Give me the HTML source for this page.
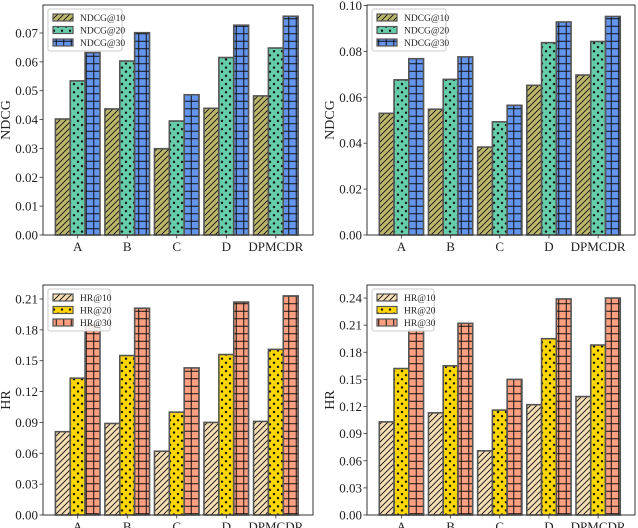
<!DOCTYPE html>
<html><head><meta charset="utf-8">
<style>
html,body{margin:0;padding:0;background:#fff;}
svg{display:block;font-family:"Liberation Serif","DejaVu Serif",serif;}
</style></head>
<body>
<svg id="chart" width="638" height="528" viewBox="0 0 638 528" xmlns="http://www.w3.org/2000/svg">
<defs>
  <pattern id="hatch" patternUnits="userSpaceOnUse" width="6" height="6">
    <path d="M-1,7 L7,-1 M-4,4 L4,-4 M2,10 L10,2" stroke="#111" stroke-width="0.9"/>
  </pattern>
  <pattern id="dots" patternUnits="userSpaceOnUse" width="8" height="8.2">
    <circle cx="2" cy="2" r="1.2" fill="#111"/>
    <circle cx="6" cy="6.1" r="1.2" fill="#111"/>
  </pattern>
  <pattern id="grid" patternUnits="userSpaceOnUse" width="7.5" height="7.5">
    <path d="M3.75,0 V7.5 M0,3.75 H7.5" stroke="#111" stroke-width="1"/>
  </pattern>
</defs>
</svg>
<script>
const categories = ["A","B","C","D","DPMCDR"];
const ndcgLabels = ["NDCG@10","NDCG@20","NDCG@30"];
const hrLabels = ["HR@10","HR@20","HR@30"];
const tlNdcg10 = [0.0402,0.0437,0.0299,0.0439,0.0482];
const tlNdcg20 = [0.0534,0.0603,0.0395,0.0615,0.0648];
const tlNdcg30 = [0.0632,0.0701,0.0486,0.0727,0.0758];
const trNdcg10 = [0.0530,0.0548,0.0383,0.0652,0.0697];
const trNdcg20 = [0.0676,0.0678,0.0493,0.0838,0.0843];
const trNdcg30 = [0.0768,0.0776,0.0565,0.0928,0.0952];
const blHr10 = [0.081,0.089,0.062,0.090,0.091];
const blHr20 = [0.133,0.155,0.100,0.156,0.161];
const blHr30 = [0.185,0.201,0.143,0.207,0.213];
const brHr10 = [0.103,0.113,0.071,0.122,0.131];
const brHr20 = [0.162,0.165,0.116,0.195,0.188];
const brHr30 = [0.205,0.212,0.150,0.239,0.240];
const tlTicks = ["0.00","0.01","0.02","0.03","0.04","0.05","0.06","0.07"];
const trTicks = ["0.00","0.02","0.04","0.06","0.08","0.10"];
const blTicks = ["0.00","0.03","0.06","0.09","0.12","0.15","0.18","0.21"];
const brTicks = ["0.00","0.03","0.06","0.09","0.12","0.15","0.18","0.21","0.24"];

const NS="http://www.w3.org/2000/svg";
const svg=document.getElementById('chart');
function mk(tag,attrs,parent){const e=document.createElementNS(NS,tag);for(const k in attrs)e.setAttribute(k,attrs[k]);(parent||svg).appendChild(e);return e;}

const ndcgColors=["#bdb76b","#66cdaa","#6495ed"];
const hrColors=["#f5deb3","#ffd700","#fca081"];
const pats=["hatch","dots","grid"];

function panel(id,box,ymax,ticks,series,labels,colors,ylabel){
  const g=mk('g',{});
  
  
  const L=box.l,R=box.r,T=box.t,B=box.b;
  const y=v=>B-(v/ymax)*(B-T);
  const unit=(R-L)/5.45;
  const x0=L+unit*0.7;
  const xc=i=>x0+i*unit;
  const bw=unit*0.3;
  series.forEach((arr,s)=>{
    arr.forEach((v,i)=>{
      const bx=xc(i)+(s-1)*bw-bw/2;
      const r1=mk('rect',{x:bx,y:y(v),width:bw,height:B-y(v),fill:colors[s]},g);
      
      
      mk('rect',{x:bx,y:y(v),width:bw,height:B-y(v),fill:'url(#'+pats[s]+')',stroke:'#555','stroke-width':1.6},g);
    });
  });
  const frame=mk('rect',{x:L,y:T,width:R-L,height:B-T,fill:'none',stroke:'#333','stroke-width':1},g);
  
  
  ticks.forEach(t=>{
    const v=parseFloat(t),yy=y(v);
    mk('line',{x1:L-3.5,x2:L,y1:yy,y2:yy,stroke:'#333','stroke-width':0.8},g);
    const tx=mk('text',{x:L-5,y:yy+4.5,'text-anchor':'end','font-size':13,fill:'#222'},g);
    tx.textContent=t;
    
    
  });
  categories.forEach((c,i)=>{
    mk('line',{x1:xc(i),x2:xc(i),y1:B,y2:B+3.5,stroke:'#333','stroke-width':0.8},g);
    const tx=mk('text',{x:xc(i),y:B+16,'text-anchor':'middle','font-size':13,fill:'#222'},g);
    tx.textContent=c;
    
    
  });
  const yl=mk('text',{x:0,y:0,'text-anchor':'middle','font-size':14,fill:'#222',transform:'translate('+(box.l-33)+','+((T+B)/2)+') rotate(-90)'},g);
  yl.textContent=ylabel;
  
  
  const lg=mk('g',{},g);
  
  
  const lx=L+5,ly=T+4;
  mk('rect',{x:lx,y:ly,width:box.lw,height:42,fill:'#fff','fill-opacity':0.9,stroke:'#ccc','stroke-width':1,rx:2},lg);
  labels.forEach((lab,s)=>{
    const ey=ly+5+s*12.5;
    const e=mk('g',{},lg);
    
    
    mk('rect',{x:lx+5,y:ey,width:20,height:7,fill:colors[s]},e);
    mk('rect',{x:lx+5,y:ey,width:20,height:7,fill:'url(#'+pats[s]+')',stroke:'#555','stroke-width':1.2},e);
    const t=mk('text',{x:lx+32,y:ey+7,'font-size':9.5,fill:'#222'},e);
    t.textContent=lab;
  });
}
panel('ndcg-left',{l:43,r:313,t:5,b:235,lw:74},0.0797,tlTicks,[tlNdcg10,tlNdcg20,tlNdcg30],ndcgLabels,ndcgColors,'NDCG');
panel('ndcg-right',{l:367,r:635,t:5,b:235,lw:74},0.1002,trTicks,[trNdcg10,trNdcg20,trNdcg30],ndcgLabels,ndcgColors,'NDCG');
panel('hr-left',{l:43,r:313,t:285,b:515,lw:62},0.2236,blTicks,[blHr10,blHr20,blHr30],hrLabels,hrColors,'HR');
panel('hr-right',{l:367,r:635,t:285,b:515,lw:62},0.2544,brTicks,[brHr10,brHr20,brHr30],hrLabels,hrColors,'HR');
</script>
</body></html>
